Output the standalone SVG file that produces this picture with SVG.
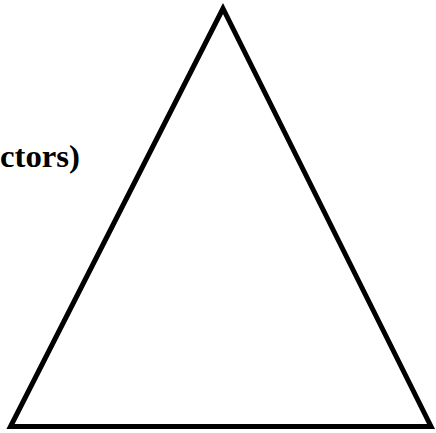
<svg xmlns="http://www.w3.org/2000/svg" width="436" height="433" viewBox="0 0 436 433">
<style>
.lbl{font-family:"Liberation Serif","DejaVu Serif",serif;font-weight:bold;font-size:31px;fill:#000}
.tri{fill:none;stroke:#000;stroke-width:5;stroke-linejoin:miter}
</style>
<rect width="436" height="433" fill="#fff"/>
<g id="triangle">
<polygon class="tri" points="223,8.5 10.5,426.5 431,426.5"/>
</g>
<g id="label">
<text class="lbl" x="0" y="167" textLength="80" lengthAdjust="spacingAndGlyphs">ctors)</text>
</g>
</svg>
